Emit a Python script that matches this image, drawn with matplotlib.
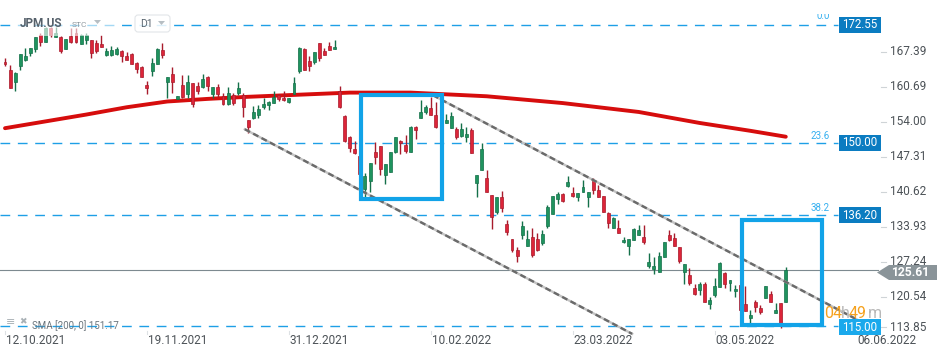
import matplotlib
matplotlib.use("Agg")
import matplotlib.pyplot as plt
from matplotlib.patches import Rectangle, Polygon, FancyBboxPatch
import numpy as np

plt.rcParams['font.family'] = ['Roboto', 'DejaVu Sans']

# daily candles JPM.US, 12.10.2021 .. 23.05.2022 (bar index 0..154)
opens = [165.4, 163.9, 161.6, 164.6, 165.9, 167.1, 167.9, 170.6, 169.2, 171.9,
         170.3, 170.3, 167.9, 170.4, 170.9, 168.8, 169.7, 169.7, 169.0, 168.9,
         166.8, 166.7, 167.0, 167.6, 166.5, 166.9, 165.2, 164.4, 161.1, 163.7,
         165.0, 167.7, 161.7, 163.1, 158.4, 161.1, 159.3, 161.4, 160.9, 160.7,
         162.5, 159.3, 160.6, 159.0, 157.5, 159.1, 159.6, 159.1, 154.4, 154.7,
         155.3, 156.9, 157.2, 157.7, 159.1, 158.6, 157.9, 159.3, 163.7, 167.9,
         165.6, 165.4, 169.0, 167.6, 168.5, 167.9, 160.0, 155.1, 151.1, 148.8,
         147.5, 141.2, 142.8, 148.3, 149.4, 143.9, 144.5, 148.2, 150.4, 149.6,
         148.3, 153.0, 154.7, 155.9, 156.6, 155.3, 152.5, 153.7, 152.8, 152.6,
         151.4, 151.1, 152.5, 142.4, 144.9, 143.2, 140.0, 136.7, 139.6, 134.4,
         131.7, 129.5, 132.3, 130.2, 132.1, 131.7, 130.8, 134.2, 136.4, 139.2,
         140.3, 141.8, 140.5, 139.7, 140.7, 139.7, 142.8, 140.9, 139.8, 136.6,
         133.7, 133.7, 131.0, 130.3, 131.4, 132.4, 132.1, 126.5, 125.9, 125.4,
         128.1, 132.4, 131.9, 130.0, 125.4, 124.7, 122.3, 121.9, 123.0, 119.2,
         120.9, 122.5, 125.1, 123.3, 121.6, 122.8, 119.2, 116.6, 119.5, 118.5,
         120.4, 121.2, 117.5, 119.3, 119.6]
highs = [166.3, 164.9, 163.6, 166.9, 168.2, 168.1, 170.2, 170.9, 172.2, 172.2,
         172.2, 170.4, 169.8, 171.9, 171.9, 170.8, 170.9, 169.7, 169.7, 170.6,
         168.1, 168.6, 168.4, 167.7, 167.3, 167.1, 165.4, 164.6, 161.8, 166.2,
         168.2, 169.0, 162.5, 164.4, 159.0, 163.0, 163.0, 161.4, 161.7, 163.2,
         162.8, 160.6, 161.2, 159.5, 160.6, 159.5, 161.6, 159.5, 154.4, 157.0,
         157.2, 158.5, 158.0, 159.9, 159.3, 159.9, 158.6, 162.5, 168.4, 168.2,
         166.5, 167.3, 169.0, 168.1, 169.3, 169.7, 160.9, 155.3, 151.3, 150.3,
         148.0, 144.3, 146.1, 150.2, 149.4, 145.9, 148.2, 151.1, 150.5, 151.5,
         153.2, 153.2, 158.2, 157.2, 158.8, 157.9, 152.8, 155.6, 155.9, 153.1,
         153.7, 153.0, 152.8, 143.9, 149.9, 144.8, 140.0, 139.6, 140.8, 135.3,
         131.7, 130.0, 135.1, 133.3, 133.7, 132.7, 133.3, 138.1, 139.9, 140.7,
         140.5, 143.7, 141.6, 140.5, 142.9, 140.7, 143.2, 141.9, 139.8, 136.8,
         135.9, 135.3, 132.1, 131.7, 133.7, 134.3, 134.3, 128.9, 128.1, 129.2,
         131.0, 133.3, 132.7, 130.0, 126.8, 126.0, 123.1, 123.5, 123.5, 120.6,
         124.1, 127.3, 125.4, 123.8, 122.8, 122.8, 122.6, 118.1, 120.0, 119.0,
         122.6, 121.7, 119.3, 119.3, 126.3]
lows = [164.6, 160.4, 160.0, 164.0, 165.6, 166.5, 167.3, 168.6, 169.2, 170.3,
        170.3, 167.2, 167.9, 169.1, 169.1, 168.8, 168.8, 166.3, 167.1, 168.4,
        166.5, 166.5, 166.7, 165.5, 165.8, 165.0, 163.3, 162.5, 159.3, 162.8,
        165.0, 166.3, 158.5, 159.6, 158.4, 158.5, 158.6, 156.9, 159.3, 160.4,
        160.0, 158.5, 158.8, 157.2, 157.2, 157.2, 159.1, 155.0, 151.8, 154.6,
        154.8, 156.5, 156.2, 157.7, 158.0, 158.0, 157.7, 159.3, 163.4, 164.0,
        163.8, 165.0, 165.6, 166.7, 167.7, 167.9, 156.7, 150.2, 148.3, 147.9,
        142.5, 139.6, 140.7, 145.9, 143.9, 142.1, 144.5, 148.0, 147.9, 148.1,
        148.3, 150.7, 154.7, 155.6, 155.3, 152.8, 151.8, 153.7, 152.8, 150.7,
        151.1, 150.2, 148.0, 139.7, 144.9, 140.7, 133.5, 136.4, 136.8, 132.4,
        129.2, 127.2, 131.7, 130.2, 128.2, 129.4, 130.5, 133.8, 136.4, 138.4,
        138.6, 141.6, 139.7, 138.9, 140.7, 137.8, 140.2, 139.7, 136.7, 133.7,
        133.7, 132.8, 130.8, 128.6, 131.4, 132.4, 130.6, 126.0, 124.9, 125.4,
        128.1, 131.2, 130.2, 127.0, 123.0, 122.8, 121.0, 120.9, 119.5, 118.2,
        120.6, 122.5, 122.2, 121.6, 120.6, 118.0, 117.9, 115.5, 117.7, 117.2,
        120.3, 119.5, 117.5, 114.6, 119.5]
closes = [165.0, 160.4, 163.3, 166.9, 166.5, 168.1, 170.2, 169.2, 171.9, 170.7,
          170.9, 167.6, 169.8, 169.3, 169.3, 170.6, 170.6, 167.2, 167.6, 168.4,
          167.6, 167.7, 167.9, 166.5, 165.9, 165.0, 164.2, 162.5, 160.5, 165.2,
          167.9, 166.7, 162.5, 161.6, 159.0, 158.8, 161.6, 157.5, 160.0, 162.2,
          160.9, 160.6, 159.3, 157.5, 159.5, 157.7, 160.4, 156.9, 153.1, 155.8,
          156.5, 157.4, 157.9, 158.7, 158.4, 158.1, 158.5, 161.4, 168.2, 164.0,
          164.7, 167.3, 166.3, 166.8, 167.7, 168.3, 156.9, 150.4, 149.1, 148.0,
          144.0, 143.7, 146.1, 147.2, 145.0, 145.9, 148.2, 151.1, 149.9, 148.4,
          153.0, 152.5, 155.8, 156.8, 155.4, 153.1, 152.0, 154.4, 155.1, 151.1,
          152.6, 151.7, 148.0, 143.9, 148.8, 140.7, 135.9, 139.6, 137.6, 133.0,
          129.6, 128.4, 134.2, 131.6, 128.6, 129.6, 132.5, 137.7, 139.9, 140.2,
          138.8, 142.6, 139.9, 140.5, 141.6, 140.7, 141.0, 139.7, 136.8, 134.6,
          135.7, 132.8, 131.4, 131.7, 133.5, 133.3, 131.1, 127.3, 126.5, 128.3,
          131.0, 131.4, 130.3, 127.5, 126.8, 123.2, 121.2, 123.0, 119.5, 120.0,
          122.6, 127.0, 123.0, 123.8, 122.1, 118.0, 117.9, 117.1, 118.7, 117.6,
          122.6, 119.5, 118.0, 115.4, 125.61]

# SMA(200) (bar index, value)
sma_idx = [0, 8, 16, 24, 32, 40, 48, 58, 68, 80, 95, 110, 125, 137, 147, 154]
sma_val = [152.8, 154.1, 155.4, 156.8, 157.9, 158.4, 158.8, 159.2, 159.6, 159.6,
           158.9, 157.6, 155.9, 153.8, 152.3, 151.17]

# fibo retracement levels
fib_levels = [172.55, 150.00, 136.20, 115.00]
fib_names = ['0.0', '23.6', '38.2', '']
last_price = 125.61

# price channel (bar index, price)
chan_upper = [(84.4, 159.1), (172.0, 114.2)]
chan_lower = [(47.3, 152.6), (123.7, 113.5)]

# highlighted boxes (idx0, idx1, low, high)
boxes = [(70.2, 86.2, 139.2, 159.1), (145.3, 161.1, 115.1, 135.2)]

yticks = [167.39, 160.69, 154.00, 147.31, 140.62, 133.93, 127.24, 120.54, 113.85]
date_idx = [0, 28, 56, 84, 112, 140, 168]
date_lbl = ['12.10.2021', '19.11.2021', '31.12.2021', '10.02.2022',
            '23.03.2022', '03.05.2022', '06.06.2022']

W, H = 949, 358
PX_BAR = 5.07


def bx(px):  # pixel column -> bar index
    return (px - 5) / PX_BAR


def py(pyy):  # pixel row -> price
    return 120.54 + (297 - pyy) * 0.1911


fig = plt.figure(figsize=(W / 100, H / 100), dpi=100)
ax = fig.add_axes([0, 0, 1, 1])
ax.set_xlim(bx(0), bx(W))
ax.set_ylim(py(H), py(0))
ax.axis('off')

# fibo lines + last price line
for lv in fib_levels:
    ax.plot([bx(0), bx(838)], [lv, lv], color='#1e9fe6', lw=1.0,
            dashes=(7, 5.5), zorder=1)
ax.plot([bx(0), bx(878)], [last_price, last_price], color='#7d8a90', lw=0.8, zorder=1)

# SMA
ax.plot(sma_idx, sma_val, color='#d40000', lw=2.8, solid_capstyle='round',
        solid_joinstyle='round', zorder=2, alpha=0.95)

# candles
x = np.arange(len(opens))
o = np.array(opens); c = np.array(closes); h = np.array(highs); l = np.array(lows)
up = c >= o
for mask, fc, ec in [(up, '#1f935e', '#147049'), (~up, '#dc2539', '#a81b2c')]:
    ax.vlines(x[mask], l[mask], h[mask], color=ec, lw=1.0, zorder=3)
    bot = np.minimum(o, c)[mask]
    hei = np.maximum(np.abs(c - o)[mask], 0.25)
    ax.bar(x[mask], hei, bottom=bot, width=0.58, color=fc, edgecolor=ec,
           linewidth=0.5, zorder=3)

# channel
for seg in (chan_upper, chan_lower):
    xs = [p[0] for p in seg]; ys = [p[1] for p in seg]
    ax.plot(xs, ys, color='#c4c4c4', lw=1.7, zorder=4)
    ax.plot(xs, ys, color='#6a6a6a', lw=1.7, dashes=(2.5, 1.5), zorder=4)

# boxes
for i0, i1, lo, hi in boxes:
    ax.add_patch(Rectangle((i0, lo), i1 - i0, hi - lo, fill=False,
                           edgecolor='#12a3e8', lw=3.0, zorder=5))

# fibo level names ("0.0" is cut by the top edge of the panel)
ax.text(bx(830), py(16), fib_names[0], color='#36b0f0', fontsize=7,
        ha='right', va='center', zorder=6)
ax.add_patch(Rectangle((bx(805), py(14)), bx(836) - bx(805), py(0) - py(14),
                       facecolor='white', edgecolor='none', zorder=6.5))
for lv, nm, yy in [(fib_levels[1], fib_names[1], 136), (fib_levels[2], fib_names[2], 208)]:
    ax.text(bx(830), py(yy), nm, color='#36b0f0', fontsize=7, ha='right',
            va='center', zorder=6)

# right axis ticks
for t in yticks:
    yv = max(t, py(327))
    ax.plot([bx(881), bx(886)], [yv, yv], color='#cfd4d7', lw=0.8, zorder=6)
    ax.text(bx(890), yv, f'{t:.2f}', color='#4c5257', fontsize=8.5,
            ha='left', va='center', zorder=6)

# level boxes
for lv, fc in zip(fib_levels, ['#0b7cc1', '#0b7cc1', '#0b7cc1', '#1aa9ec']):
    yc = lv if lv > 116 else py(327)
    ax.add_patch(Rectangle((bx(839), yc - 1.5), bx(881) - bx(839), 3.0,
                           facecolor=fc, edgecolor='none', zorder=7))
    ax.text(bx(860), yc, f'{lv:.2f}', color='white', fontsize=8.3,
            ha='center', va='center', zorder=8)

# last price tag
tag = [(bx(877), py(272.5)), (bx(889), py(265)), (bx(937), py(265)),
       (bx(937), py(280)), (bx(889), py(280))]
ax.add_patch(Polygon(tag, closed=True, facecolor='#8a9499', edgecolor='none', zorder=7))
ax.text(bx(891), py(272.5), f'{last_price:.2f}', color='white', fontsize=8.7,
        fontweight='bold', ha='left', va='center', zorder=8)

# countdown
for s, xx, col in [('04', 824, '#f5a21f'), ('h', 841, '#b8b8b8'),
                   ('49', 849, '#f5a21f'), ('m', 868, '#b8b8b8')]:
    ax.text(bx(xx), py(313), s, color=col, fontsize=11.5, ha='left',
            va='center', zorder=8)

# dates
for i, lb in zip(date_idx, date_lbl):
    ax.text(i + 0.2, py(341), lb, color='#4c5257', fontsize=8.5, ha='left',
            va='center', zorder=6)
    ax.plot([i, i], [py(331), py(334)], color='#dde1e4', lw=0.8, zorder=6)

# header
ax.add_patch(Rectangle((bx(15), py(36)), bx(118) - bx(15), py(12) - py(36),
                       facecolor='white', alpha=0.6, edgecolor='none', zorder=6))
ax.text(bx(20), py(24), 'JPM.US', color='#55606a', fontsize=8.5,
        fontweight='bold', ha='left', va='center', zorder=7)
ax.text(bx(72), py(25), 'STC', color='#8f999f', fontsize=6, ha='left',
        va='center', zorder=7)
ax.add_patch(Polygon([(bx(94), py(20)), (bx(101), py(20)), (bx(97.5), py(24))],
                     facecolor='#b6bec3', edgecolor='none', zorder=7))
ax.add_patch(FancyBboxPatch((bx(135), py(32)), bx(170) - bx(135), py(15) - py(32),
                            boxstyle='round,pad=0,rounding_size=0.6',
                            facecolor='white', edgecolor='#dde1e4', lw=0.8,
                            alpha=0.85, zorder=6))
ax.text(bx(140), py(24), 'D1', color='#5a6670', fontsize=7.5, ha='left',
        va='center', zorder=7)
ax.add_patch(Polygon([(bx(158), py(21)), (bx(165), py(21)), (bx(161.5), py(25))],
                     facecolor='#b6bec3', edgecolor='none', zorder=7))

# indicator legend
ax.text(bx(6), py(322), '≡', color='#a9b1b6', fontsize=8, ha='left', va='center', zorder=7)
ax.text(bx(19), py(322), '✖', color='#a9b1b6', fontsize=6.5, ha='left', va='center', zorder=7)
ax.text(bx(32), py(325.5), 'SMA [200, 0] 151.17', color='#6b757c', fontsize=7,
        ha='left', va='center', zorder=7)

fig.savefig('out.png', dpi=100, facecolor='white')
